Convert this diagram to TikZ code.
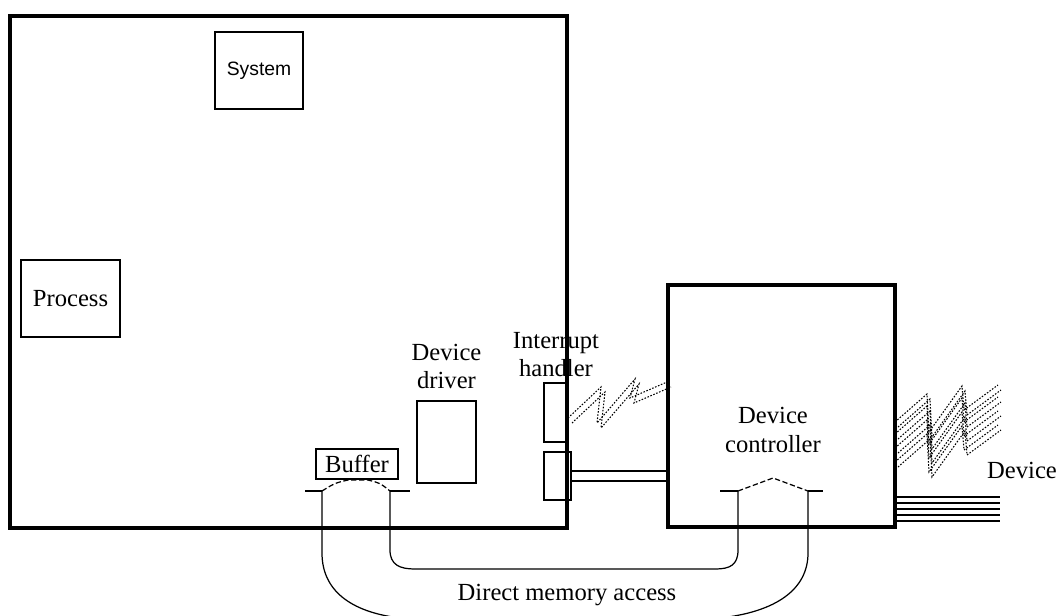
\documentclass[tikz,border=0pt]{standalone}
\usepackage{fontspec}
\setmainfont{Liberation Serif}
\newfontfamily\labelsans{Liberation Sans}
\usetikzlibrary{positioning}
\newcommand{\boltpath}{-- ++(32,-28) -- ++(2,38) -- ++(33,-46) -- ++(2,24) -- ++(34,-25)}
\newcommand{\irqpath}{-- ++(33,-31) -- ++(-4,36) -- ++(38,-44) -- ++(-5,19) -- ++(37,-16)}

\begin{document}
\begin{tikzpicture}[
  x=0.02cm, y=-0.02cm,
  font=\fontsize{14}{16}\selectfont,
  frame/.style={
    draw,
    line width=2.3pt,
    inner sep=0pt,
    outer sep=0pt
  },
  unit/.style={
    draw,
    line width=0.7pt,
    inner sep=0pt,
    outer sep=0pt,
    align=center
  },
  tag/.style={align=center, inner sep=1pt},
  wire/.style={line width=0.7pt},
  stub/.style={line width=1.3pt},
  arch/.style={line width=0.7pt, dash pattern=on 3pt off 1.5pt},
  spark/.style={line width=0.6pt, dash pattern=on 0.9pt off 0.9pt}
]
\path[use as bounding box, clip] (0,0) rectangle (1060,615);

\node[frame, minimum width=11.14cm, minimum height=10.24cm] (kernel) at (288.5,272) {};
\node[frame, minimum width=4.54cm, minimum height=4.84cm] (controller) at (781.5,406) {};

\node[unit, minimum width=1.76cm, minimum height=1.54cm, font=\labelsans\fontsize{11}{13}\selectfont] (system) at (259,70.5) {System};
\node[unit, minimum width=1.98cm, minimum height=1.54cm] (process) at (70.5,298.5) {Process};
\node[unit, minimum width=1.18cm, minimum height=1.64cm] (driver) at (446.5,442) {};
\node[unit, minimum width=1.64cm, minimum height=0.6cm] (buffer) at (357,464) {Buffer};
\node[unit, minimum width=0.48cm, minimum height=1.18cm] (irqtop) at (556,412.5) {};
\node[unit, minimum width=0.54cm, minimum height=0.96cm] (irqbot) at (557.5,476) {};

\node[tag, above=0.2cm of driver] (driverlabel) {Device\\driver};
\node[tag, above=0.08cm of irqtop] (irqlabel) {Interrupt\\handler};
\node[tag] (ctrllabel) at (773,430) {Device\\controller};
\node[tag] (devlabel) at (1022,470) {Device};
\node[tag] (dmalabel) at (567,595) {Direct memory access};

% bus between handler and controller
\draw[wire] ([yshift=0.1cm]irqbot.east) -- ([yshift=0.1cm]irqbot.east -| controller.west);
\draw[wire] ([yshift=-0.1cm]irqbot.east) -- ([yshift=-0.1cm]irqbot.east -| controller.west);

% interrupt signal
\begin{scope}[shift={(irqtop.east)}]
\draw[spark] (0,5.5) \irqpath;
\draw[spark] (4,10.5) \irqpath;
\end{scope}

% device side
\begin{scope}[shift={(controller.east)}]
\foreach \dy in {16,28,42,56} {
  \draw[spark] (0,\dy) \boltpath;
  \draw[spark] (3,\dy+5) \boltpath;
}
\foreach \dy in {91,97,103,109,115}
  \draw[wire] (0,\dy) -- (105,\dy);
\end{scope}

% DMA paths
\coordinate (dmaA) at (322,491);
\coordinate (dmaB) at (390,491);
\coordinate (dmaC) at (738,491);
\coordinate (dmaD) at (808,491);

\draw[stub] ([xshift=-0.34cm]dmaA) -- (dmaA);
\draw[stub] (dmaB) -- ([xshift=0.4cm]dmaB);
\draw[stub] ([xshift=-0.36cm]dmaC) -- (dmaC);
\draw[stub] (dmaD) -- ([xshift=0.3cm]dmaD);

\draw[arch] (dmaA) .. controls (335,483) .. (348,480) -- (368,480) .. controls (380,483) .. (dmaB);
\draw[arch] (dmaC) .. controls (755,484) .. (773,478) .. controls (791,484) .. (dmaD);

\draw[wire] (dmaB) -- (390,550) .. controls (390,565) and (400,569) .. (415,569)
  -- (715,569) .. controls (730,569) and (738,565) .. (738,550) -- (dmaC);
\draw[wire] (dmaA) -- (322,553) .. controls (322,590) and (350,612) .. (400,618)
  -- (720,618) .. controls (775,612) and (808,590) .. (808,553) -- (dmaD);
\end{tikzpicture}
\end{document}
